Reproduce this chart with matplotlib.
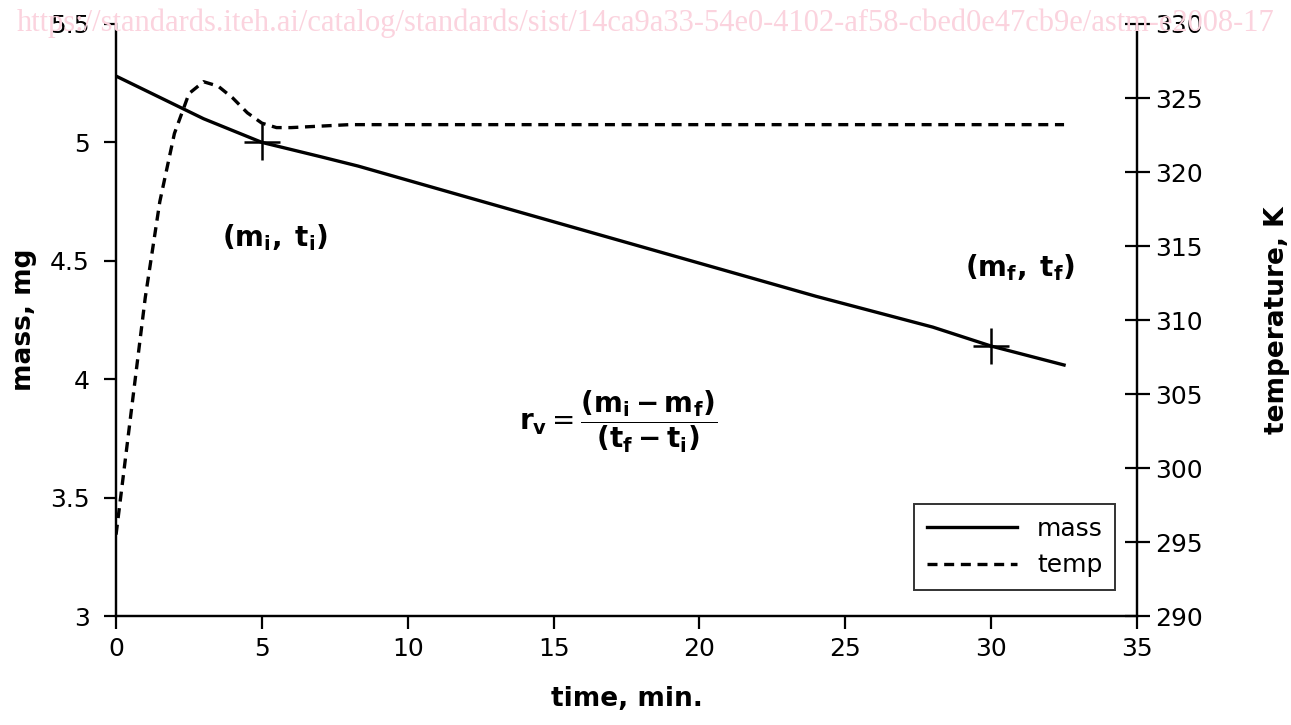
import matplotlib.pyplot as plt

# mass curve (time in min, mass in mg)
mass_t = [0, 1, 2, 3, 4, 5, 6, 7, 8.3, 12, 16, 20, 24, 28, 30, 32.5]
mass_m = [5.28, 5.22, 5.16, 5.10, 5.05, 5.00, 4.97, 4.94, 4.90, 4.77, 4.63, 4.49, 4.35, 4.22, 4.14, 4.06]

# temperature curve (K)
temp_t = [0, 0.5, 1.0, 1.5, 2.0, 2.5, 3.0, 3.5, 4.0, 4.5, 5.0, 5.5, 6.0, 7.0, 8.0, 12, 20, 32.5]
temp_k = [295.5, 303.5, 311.5, 318.0, 322.6, 325.3, 326.1, 325.8, 325.0, 324.0, 323.3, 323.0, 323.0, 323.1, 323.2, 323.2, 323.2, 323.2]

# the two picked points
pts_t = [5, 30]
pts_m = [5.0, 4.14]

plt.rcParams['font.family'] = ['DejaVu Sans']
plt.rcParams['mathtext.fontset'] = 'dejavusans'

fig = plt.figure(figsize=(12.91, 7.25), dpi=100)
ax = fig.add_axes([0.0899, 0.1503, 0.7908, 0.8166])
ax2 = ax.twinx()

fig.text(0.5, 0.968, 'https://standards.iteh.ai/catalog/standards/sist/14ca9a33-54e0-4102-af58-cbed0e47cb9e/astm-e2008-17',
         ha='center', va='center', fontsize=22, color='#fbd3de', family='Liberation Serif', zorder=0)

l1, = ax.plot(mass_t, mass_m, color='black', lw=2.4, label='mass')
l2, = ax2.plot(temp_t, temp_k, color='black', lw=2.4, ls=(0, (3, 2)), label='temp')
ax.plot(pts_t, pts_m, ls='none', marker='+', ms=26, mew=1.8, color='black')

ax.set_xlim(0, 35)
ax.set_ylim(3, 5.5)
ax2.set_ylim(290, 330)
ax.set_xticks(range(0, 36, 5))
ax.set_yticks([3, 3.5, 4, 4.5, 5, 5.5])
ax.set_yticklabels(['3', '3.5', '4', '4.5', '5', '5.5'])
ax2.set_yticks(range(290, 331, 5))

for a in (ax, ax2):
    a.spines['top'].set_visible(False)
    for s in a.spines.values():
        s.set_linewidth(1.6)
ax.tick_params(axis='both', labelsize=18, width=1.6, length=9, direction='out')
ax.tick_params(axis='x', pad=6)
ax.tick_params(axis='y', pad=10)
ax2.tick_params(axis='y', labelsize=18, width=1.6, length=18, direction='inout', pad=4)

ax.set_xlabel('time, min.', fontsize=19, fontweight='bold', labelpad=18)
ax.set_ylabel('mass, mg', fontsize=19, fontweight='bold', labelpad=9)
ax2.set_ylabel('temperature, K', fontsize=19, fontweight='bold', labelpad=44)

ax.text(5.45, 4.6, r'$\mathbf{(m_i,\;t_i)}$', fontsize=20, ha='center', va='center')
ax.text(31.0, 4.47, r'$\mathbf{(m_f,\;t_f)}$', fontsize=20, ha='center', va='center')
ax.text(17.2, 3.82, r'$\mathbf{r_v} = \dfrac{\mathbf{(m_i - m_f)}}{\mathbf{(t_f - t_i)}}$', fontsize=20, ha='center', va='center')

leg = ax.legend([l1, l2], ['mass', 'temp'], loc='lower right', bbox_to_anchor=(0.991, 0.023),
                fontsize=18, frameon=True, fancybox=False, handlelength=3.6, borderpad=0.5)
leg.get_frame().set_edgecolor('black')
leg.get_frame().set_linewidth(1.4)

fig.savefig('out.png', dpi=100)
